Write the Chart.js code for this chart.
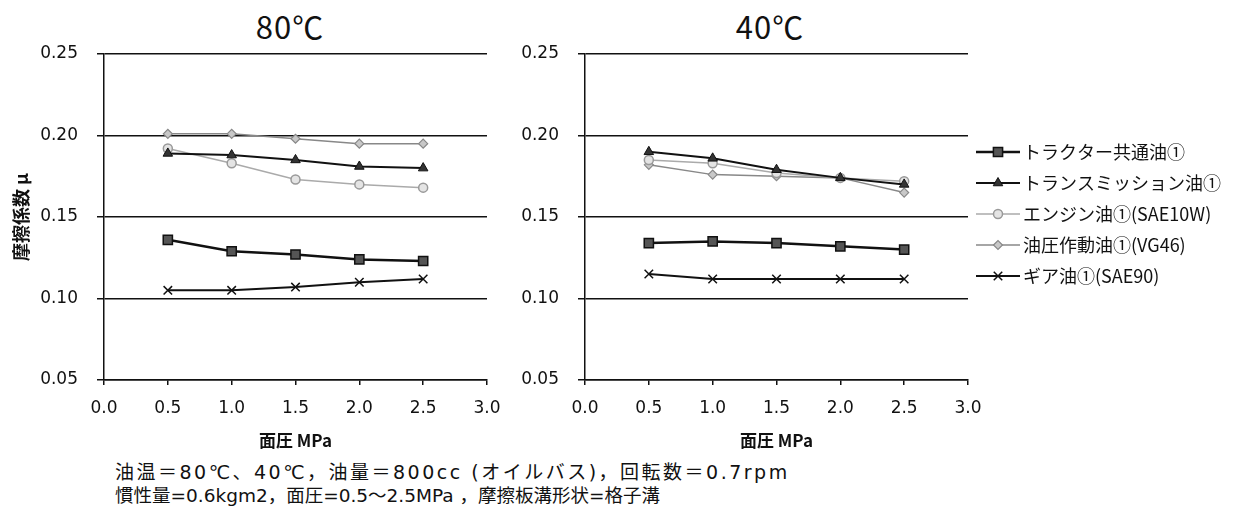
<!DOCTYPE html>
<html lang="ja">
<head>
<meta charset="utf-8">
<title>摩擦係数</title>
<script src="https://cdn.jsdelivr.net/npm/chart.js@4/dist/chart.umd.min.js"></script>
<style>
  html, body { margin: 0; padding: 0; background: #fff; }
  body { width: 1258px; height: 518px; position: relative; overflow: hidden; font-family: "Noto Sans CJK JP", sans-serif; color: #111; }
  canvas { position: absolute; top: 0; }
  #c80 { left: 0; }
  #c40 { left: 500px; }
  .ttl { position: absolute; top: 8px; width: 200px; text-align: center; font-size: 31px; line-height: 36px; letter-spacing: 1px; }
  .note { position: absolute; left: 115px; font-family: "DejaVu Sans", "Noto Sans CJK JP", sans-serif; white-space: nowrap; }
  #note1 { top: 461px; font-size: 19px; line-height: 23px; letter-spacing: 2.5px; }
  #note2 { top: 484px; font-size: 18.5px; line-height: 23px; }
</style>
</head>
<body>
<div class="ttl" style="left:190px">80℃</div>
<div class="ttl" style="left:670px">40℃</div>
<canvas id="c80" width="500" height="460"></canvas>
<canvas id="c40" width="758" height="460"></canvas>
<div class="note" id="note1">油温＝80℃、40℃，油量＝800cc (オイルバス)，回転数＝0.7rpm</div>
<div class="note" id="note2">慣性量=0.6kgm2，面圧=0.5～2.5MPa ，摩擦板溝形状=格子溝</div>
<script>
// 面圧 MPa
const pressure = [0.5, 1.0, 1.5, 2.0, 2.5]
const seriesNames = ['トラクター共通油①', 'トランスミッション油①', 'エンジン油①(SAE10W)', '油圧作動油①(VG46)', 'ギア油①(SAE90)']

// 80℃
const tractor80   = [0.136, 0.129, 0.127, 0.124, 0.123]
const trans80     = [0.189, 0.188, 0.185, 0.181, 0.180]
const engine80    = [0.192, 0.183, 0.173, 0.170, 0.168]
const hydraulic80 = [0.201, 0.201, 0.198, 0.195, 0.195]
const gear80      = [0.105, 0.105, 0.107, 0.110, 0.112]

// 40℃
const tractor40   = [0.134, 0.135, 0.134, 0.132, 0.130]
const trans40     = [0.190, 0.186, 0.179, 0.174, 0.170]
const engine40    = [0.185, 0.183, 0.177, 0.174, 0.172]
const hydraulic40 = [0.182, 0.176, 0.175, 0.174, 0.165]
const gear40      = [0.115, 0.112, 0.112, 0.112, 0.112]

const xMin = 0, xMax = 3.0, xStep = 0.5
const yMin = 0.05, yMax = 0.25, yStep = 0.05

// 系列ごとの線・マーカーのスタイル
const styles = [
  { borderColor: '#111', borderWidth: 2.5, pointStyle: 'rect', pointRadius: 6.5, pointBackgroundColor: '#555', pointBorderColor: '#111', pointBorderWidth: 1.5 },
  { borderColor: '#111', borderWidth: 2, pointStyle: 'triangle', pointRadius: 5.5, pointBackgroundColor: '#333', pointBorderColor: '#111', pointBorderWidth: 1 },
  { borderColor: '#aaa', borderWidth: 1.5, pointStyle: 'circle', pointRadius: 4.5, pointBackgroundColor: '#e4e4e4', pointBorderColor: '#999', pointBorderWidth: 1.5 },
  { borderColor: '#888', borderWidth: 1.5, pointStyle: 'rectRot', pointRadius: 4.5, pointBackgroundColor: '#c8c8c8', pointBorderColor: '#888', pointBorderWidth: 1.2 },
  { borderColor: '#111', borderWidth: 2, pointStyle: 'crossRot', pointRadius: 6, pointBackgroundColor: '#111', pointBorderColor: '#111', pointBorderWidth: 1.5 }
]

const tickFont = { family: 'DejaVu Sans', size: 17 }
const xTitleFont = { family: 'Noto Sans CJK JP', size: 17, weight: 'bold' }
const yTitleFont = { family: 'Noto Sans CJK JP', size: 18, weight: 'bold' }

function makeDatasets(series) {
  return series.map((vals, i) => ({
    label: seriesNames[i],
    data: pressure.map((p, k) => ({ x: p, y: vals[k] })),
    tension: 0,
    fill: false,
    ...styles[i]
  }))
}

// 右側の凡例（線＋マーカー＋名前）
const sideLegend = {
  id: 'sideLegend',
  afterDraw(chart, args, opts) {
    if (!opts.show) return
    const ctx = chart.ctx
    chart.data.datasets.forEach((ds, i) => {
      const y = opts.top + i * opts.gap
      ctx.save()
      ctx.strokeStyle = ds.borderColor
      ctx.lineWidth = ds.borderWidth
      ctx.beginPath()
      ctx.moveTo(opts.x, y)
      ctx.lineTo(opts.x + opts.lineLen, y)
      ctx.stroke()
      ctx.fillStyle = ds.pointBackgroundColor
      ctx.strokeStyle = ds.pointBorderColor
      ctx.lineWidth = ds.pointBorderWidth
      Chart.helpers.drawPoint(ctx, { pointStyle: ds.pointStyle, rotation: 0, radius: ds.pointRadius, borderWidth: ds.pointBorderWidth }, opts.x + opts.lineLen / 2, y)
      ctx.fillStyle = '#111'
      ctx.font = '18px "Noto Sans CJK JP"'
      ctx.textBaseline = 'middle'
      ctx.fillText(ds.label, opts.x + opts.lineLen + 3, y)
      ctx.restore()
    })
  }
}

function makeChart(id, series, cfg) {
  return new Chart(document.getElementById(id), {
    type: 'line',
    data: { datasets: makeDatasets(series) },
    plugins: [sideLegend],
    options: {
      responsive: false,
      devicePixelRatio: 1,
      animation: false,
      events: [],
      layout: { padding: { top: 54, right: cfg.padRight, left: 0, bottom: 0 } },
      plugins: {
        legend: { display: false },
        tooltip: { enabled: false },
        sideLegend: cfg.legend
      },
      scales: {
        x: {
          type: 'linear',
          min: xMin, max: xMax,
          afterFit: s => { s.height = 80; s.paddingLeft = 0; s.paddingRight = 0 },
          ticks: { stepSize: xStep, font: tickFont, color: '#111', padding: 13, maxRotation: 0, callback: v => v.toFixed(1) },
          grid: { drawOnChartArea: false, drawTicks: true, tickLength: 5, color: '#111', lineWidth: 1.5 },
          border: { color: '#111', width: 1.5 },
          title: { display: true, text: '面圧 MPa', font: xTitleFont, color: '#111', padding: { top: 0, bottom: 9 } }
        },
        y: {
          min: yMin, max: yMax,
          afterFit: s => { s.width = cfg.yWidth },
          ticks: { stepSize: yStep, font: tickFont, color: '#111', padding: 19, callback: v => v.toFixed(2) },
          grid: { color: '#111', lineWidth: 1.5, tickLength: 7 },
          border: { color: '#111', width: 1.5 },
          title: { display: cfg.yTitle, text: '摩擦係数 μ', font: yTitleFont, color: '#111', padding: { top: 10, bottom: 0 } }
        }
      }
    }
  })
}

makeChart('c80', [tractor80, trans80, engine80, hydraulic80, gear80],
  { padRight: 13, yWidth: 104, yTitle: true, legend: { show: false } })
makeChart('c40', [tractor40, trans40, engine40, hydraulic40, gear40],
  { padRight: 290, yWidth: 85, yTitle: false, legend: { show: true, x: 476, lineLen: 44, top: 152, gap: 31 } })
</script>
</body>
</html>
